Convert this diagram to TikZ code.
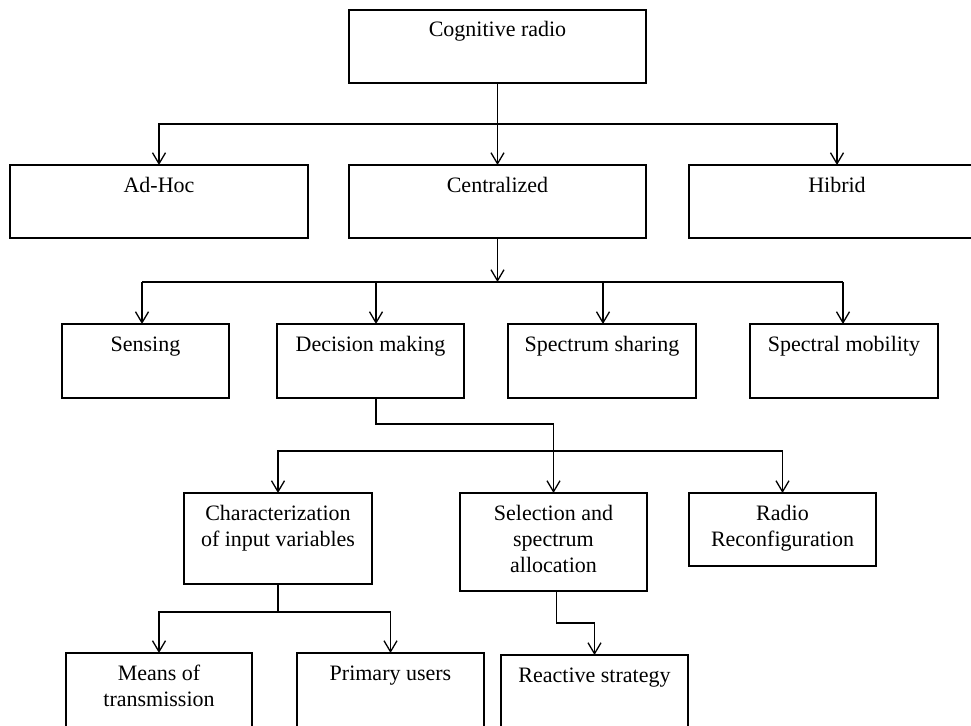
\documentclass[tikz,border=0pt]{standalone}
\usepackage{fontspec}
\setmainfont{Liberation Serif}
\usetikzlibrary{arrows.meta}
\newcommand\boxtext[3]{\parbox[t][#2][t]{#1}{\centering\rule{0pt}{27pt}#3}}
\begin{document}
\begin{tikzpicture}[x=1pt,y=-1pt,
  box/.style={draw, inner sep=0pt, outer sep=0pt, line width=1.6pt, anchor=north west, font=\fontsize{22}{26}\selectfont},
  conn/.style={line width=1.3pt},
  arr/.style={conn, -{Straight Barb[length=11pt,width=13pt,line width=1.3pt]}}]
\useasboundingbox (0,0) rectangle (971,725);
% boxes
\node[box] (cr)    at (349,10)  {\boxtext{297pt}{73pt}{Cognitive radio}};
\node[box] (adhoc) at (10,165)  {\boxtext{298pt}{73pt}{Ad-Hoc}};
\node[box] (cent)  at (349,165) {\boxtext{297pt}{73pt}{Centralized}};
\node[box] (hib)   at (689,165) {\boxtext{296pt}{73pt}{Hibrid}};
\node[box] (sens)  at (62,324)  {\boxtext{167pt}{74pt}{Sensing}};
\node[box] (dm)    at (277,324) {\boxtext{187pt}{74pt}{Decision making}};
\node[box] (ss)    at (508,324) {\boxtext{188pt}{74pt}{Spectrum sharing}};
\node[box] (sm)    at (750,324) {\boxtext{188pt}{74pt}{Spectral mobility}};
\node[box] (ch)    at (184,493) {\boxtext{188pt}{91pt}{Characterization\\of input variables}};
\node[box] (sel)   at (460,493) {\boxtext{187pt}{98pt}{Selection and\\spectrum\\allocation}};
\node[box] (rr)    at (689,493) {\boxtext{187pt}{73pt}{Radio\\Reconfiguration}};
\node[box] (mt)    at (66,653)  {\boxtext{186pt}{90pt}{Means of\\transmission}};
\node[box] (pu)    at (297,653) {\boxtext{187pt}{90pt}{Primary users}};
\node[box] (rs)    at (501,655) {\boxtext{187pt}{90pt}{Reactive strategy}};
% level 1
\coordinate (j1) at (cr.south |- 0,124);
\draw[conn] (cr.south) -- (j1);
\draw[arr] (j1) -| (adhoc.north);
\draw[arr] (j1) -- (cent.north);
\draw[arr] (j1) -| (hib.north);
% level 2
\coordinate (j2) at (cent.south |- 0,282);
\coordinate (s1) at (142,282);
\coordinate (s2) at (376,282);
\coordinate (s3) at (603,282);
\coordinate (s4) at (843,282);
\draw[arr] (cent.south) -- (j2);
\draw[conn] (s1) -- (s4);
\draw[arr] (s1) -- (s1 |- sens.north);
\draw[arr] (s2) -- (s2 |- dm.north);
\draw[arr] (s3) -- (s3 |- ss.north);
\draw[arr] (s4) -- (s4 |- sm.north);
% level 3
\coordinate (d0) at (376,398);
\coordinate (j3) at (sel.north |- 0,451);
\draw[arr] (d0) -- ++(0,26) -| (sel.north);
\draw[arr] (j3) -| (ch.north);
\draw[arr] (j3) -| (rr.north);
% level 4
\coordinate (j4) at (ch.south |- 0,612);
\draw[conn] (ch.south) -- (j4);
\draw[arr] (j4) -| (mt.north);
\draw[arr] (j4) -| (pu.north);
\draw[arr] ([xshift=3pt]sel.south) -- ++(0,32) -| (rs.north);
\end{tikzpicture}
\end{document}
